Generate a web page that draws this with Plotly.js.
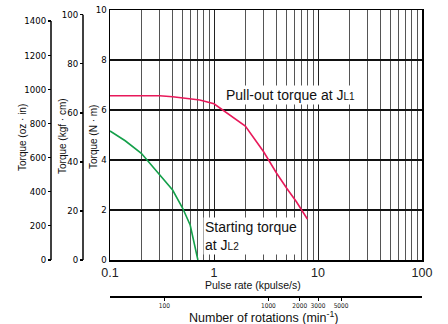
<!DOCTYPE html>
<html>
<head>
<meta charset="utf-8">
<script src="https://cdn.plot.ly/plotly-3.0.1.min.js"></script>
<style>html,body{margin:0;padding:0;background:#fff;}#chart{width:448px;height:324px;}</style>
</head>
<body>
<div id="chart"></div>
<script>
// Data
const pulloutX = [0.1, 0.3, 0.4, 0.73, 1.0, 1.4, 2.0, 3.0, 4.0, 5.0, 6.2, 7.9];
const pulloutY = [6.57, 6.57, 6.53, 6.4, 6.25, 5.8, 5.36, 4.33, 3.47, 2.87, 2.33, 1.64];
const startX = [0.1, 0.14, 0.2, 0.3, 0.4, 0.5, 0.59, 0.7];
const startY = [5.16, 4.77, 4.27, 3.4, 2.8, 2.07, 1.4, 0];
const pulseTicks = [0.1, 1, 10, 100];
const pulseTickText = ['0.1', '1', '10', '100'];
const pulseMinor = [0.2,0.3,0.4,0.5,0.6,0.7,0.8,0.9,2,3,4,5,6,7,8,9,20,30,40,50,60,70,80,90];
const rotTicks = [100, 1000, 2000, 3000, 5000];
const rotTickText = ['100', '1000', '2000', '3000', '5000'];
const nmTicks = [0, 2, 4, 6, 8, 10];
const kgfTicks = [0, 20, 40, 60, 80, 100];
const ozTicks = [0, 200, 400, 600, 800, 1000, 1200, 1400];
const rpmPerKpps = 300;   // 200 steps/rev
const kgfPerNm = 10.197;
const ozTop = 1465;

const W = 448, H = 324, ML = 4, MR = 26, MT = 10, MB = 4;
const PW = W - ML - MR, PH = H - MT - MB;
const px = v => (v - ML) / PW;
const py = v => (H - MB - v) / PH;

const narrow = 'DejaVu Sans Condensed, Liberation Sans Narrow, Arial Narrow, sans-serif';
const sans = 'Liberation Sans, Arial, Helvetica, sans-serif';

const traces = [
  {x: pulloutX, y: pulloutY, type: 'scatter', mode: 'lines', line: {color: '#e8195a', width: 1.6}, hoverinfo: 'skip', showlegend: false},
  {x: startX, y: startY, type: 'scatter', mode: 'lines', line: {color: '#14a04a', width: 1.6}, hoverinfo: 'skip', showlegend: false},
  {x: [1000], y: [5], xaxis: 'x2', yaxis: 'y', mode: 'markers', opacity: 0, hoverinfo: 'skip', showlegend: false},
  {x: [1], y: [50], xaxis: 'x', yaxis: 'y2', mode: 'markers', opacity: 0, hoverinfo: 'skip', showlegend: false},
  {x: [1], y: [500], xaxis: 'x', yaxis: 'y3', mode: 'markers', opacity: 0, hoverinfo: 'skip', showlegend: false}
];

function note(x, y, text, size, extra) {
  return Object.assign({xref: 'paper', yref: 'paper', x: px(x), y: py(y), text: text,
    xanchor: 'center', yanchor: 'middle', showarrow: false,
    font: {family: sans, size: size, color: '#111'}}, extra || {});
}

const yTickFont = {family: narrow, size: 9.5, color: '#000'};

const layout = {
  width: W, height: H,
  margin: {l: ML, r: MR, t: MT, b: MB},
  paper_bgcolor: '#fff', plot_bgcolor: '#fff',
  showlegend: false,
  xaxis: {
    type: 'log', range: [-1, 2], domain: [px(110), 1],
    tickvals: pulseTicks, ticktext: pulseTickText, ticks: '',
    tickfont: {family: sans, size: 12.5, color: '#222'},
    showline: true, mirror: true, linecolor: '#000', linewidth: 1.5,
    showgrid: true, gridcolor: '#222', gridwidth: 1,
    minor: {tickvals: pulseMinor, showgrid: true, gridcolor: '#555', gridwidth: 1, ticks: ''},
    zeroline: false, fixedrange: true
  },
  xaxis2: {
    type: 'log', overlaying: 'x', anchor: 'free', position: py(296), side: 'bottom',
    range: [Math.log10(0.1 * rpmPerKpps), Math.log10(100 * rpmPerKpps)],
    tickvals: rotTicks, ticktext: rotTickText, ticks: 'outside', ticklen: 3, tickwidth: 1, tickcolor: '#000',
    tickfont: {family: narrow, size: 6.5, color: '#222'},
    showline: true, linecolor: '#000', linewidth: 1.5, showgrid: false, zeroline: false
  },
  yaxis: {
    range: [0, 10], domain: [py(260), 1], tickvals: nmTicks, ticks: '',
    tickfont: yTickFont,
    showline: true, mirror: true, linecolor: '#000', linewidth: 1.5,
    showgrid: true, gridcolor: '#111', gridwidth: 1.5, zeroline: false, fixedrange: true
  },
  yaxis2: {
    overlaying: 'y', anchor: 'free', position: px(83), side: 'left',
    range: [0, 10 * kgfPerNm], tickvals: kgfTicks, ticks: 'outside', ticklen: 3, tickcolor: '#000', tickwidth: 1.2,
    tickfont: yTickFont,
    showline: false, showgrid: false, zeroline: false
  },
  yaxis3: {
    overlaying: 'y', anchor: 'free', position: px(51), side: 'left',
    range: [0, ozTop], tickvals: ozTicks, ticks: 'outside', ticklen: 3, tickcolor: '#000', tickwidth: 1.2,
    tickfont: yTickFont,
    showline: false, showgrid: false, zeroline: false
  },
  shapes: [
    {type: 'line', xref: 'paper', yref: 'y2', x0: px(83), x1: px(83), y0: 0, y1: 100, line: {color: '#000', width: 1.5}},
    {type: 'line', xref: 'paper', yref: 'y3', x0: px(51), x1: px(51), y0: 0, y1: 1400, line: {color: '#000', width: 1.5}}
  ],
  annotations: [
    note(290, 95, 'Pull-out torque at J<span style="font-size:10px">L1</span>', 14, {bgcolor: '#fff', borderpad: 1}),
    note(203, 236, 'Starting torque<br>at J<span style="font-size:10px">L2</span>', 14,
      {xanchor: 'left', align: 'left', bgcolor: '#fff', borderpad: 1}),
    note(253, 285, 'Pulse rate (kpulse/s)', 10.5),
    note(264, 317, 'Number of rotations (min<sup>-1</sup>)', 12.5),
    note(22, 138, 'Torque (oz · in)', 10, {textangle: -90}),
    note(62, 136, 'Torque (kgf · cm)', 10, {textangle: -90}),
    note(93, 137, 'Torque (N · m)', 10, {textangle: -90})
  ]
};

Plotly.newPlot('chart', traces, layout, {staticPlot: true, displayModeBar: false});
</script>
</body>
</html>
